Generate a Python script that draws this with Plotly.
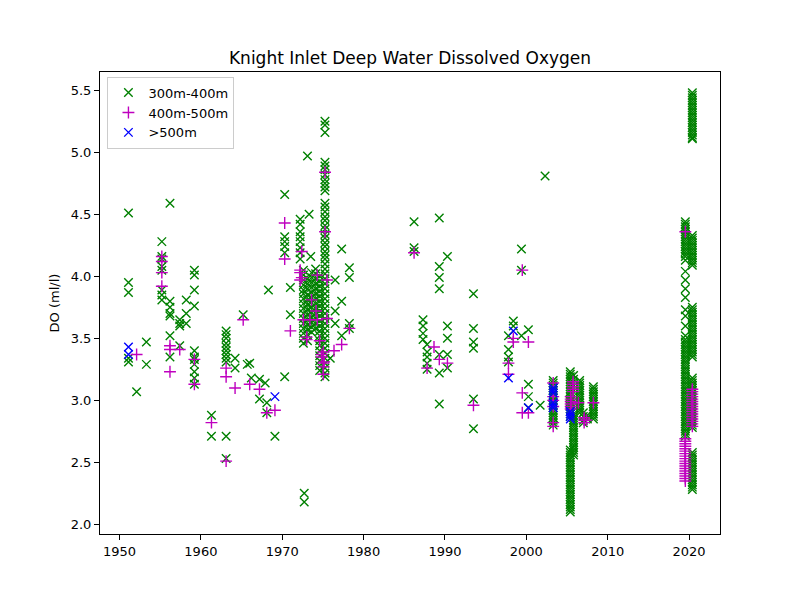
import plotly.graph_objects as go

# 300m-400m : echantillons isoles (annee, valeurs de DO)
vert_isoles = [
    (1951.1, [4.51, 3.95, 3.87, 3.34, 3.31]),
    (1952.1, [3.07]),
    (1953.3, [3.47, 3.29]),
    (1955.2, [4.28, 4.16, 4.14, 4.08, 4.05, 3.89, 3.85, 3.81]),
    (1956.2, [4.59, 3.80, 3.75, 3.70, 3.68, 3.52, 3.35]),
    (1957.4, [3.65, 3.62, 3.60, 3.44]),
    (1958.2, [3.81, 3.70, 3.62]),
    (1959.2, [4.05, 4.01, 3.89, 3.76, 3.40, 3.35, 3.33, 3.29, 3.23, 3.18, 3.13]),
    (1961.3, [2.88, 2.71]),
    (1963.1, [3.56, 3.53, 3.50, 3.46, 3.43, 3.40, 3.37, 3.34, 3.31, 2.71, 2.53]),
    (1964.2, [3.34, 3.26]),
    (1965.2, [3.69]),
    (1965.7, [3.29]),
    (1966.0, [3.30]),
    (1966.2, [3.18]),
    (1967.2, [3.17, 3.01]),
    (1967.9, [3.14]),
    (1968.1, [2.98, 2.90]),
    (1968.3, [3.89]),
    (1969.1, [2.71]),
    (1970.3, [4.66, 4.32, 4.28, 4.24, 4.19, 3.19]),
    (1971.0, [3.91, 3.69]),
    (1972.2, [4.46, 4.42, 4.36, 4.32, 4.28, 4.23, 4.19, 4.14]),
    (1972.7, [2.25, 2.18]),
    (1973.1, [4.97]),
    (1973.3, [4.50]),
    (1973.5, [4.16]),
    (1975.9, [3.34]),
    (1976.5, [3.97, 3.72, 3.62]),
    (1977.3, [4.22, 3.80, 3.52]),
    (1978.25, [4.07, 3.99, 3.62, 3.58]),
    (1986.2, [4.44, 4.23, 4.20]),
    (1987.3, [3.65, 3.60, 3.54, 3.49]),
    (1987.8, [3.45, 3.39, 3.35, 3.30, 3.25]),
    (1989.3, [4.47, 4.08, 3.99, 3.90, 3.37, 3.22, 2.97]),
    (1990.3, [4.16, 3.60, 3.50, 3.37, 3.26]),
    (1993.5, [3.86, 3.58, 3.47, 3.42, 3.01, 2.77]),
    (1997.8, [3.52, 3.41, 3.35, 3.31]),
    (1998.4, [3.64, 3.60]),
    (1999.4, [4.22, 4.05, 3.52]),
    (2000.25, [3.57, 3.13, 3.03, 2.94]),
    (2001.7, [2.96]),
    (2002.3, [4.81]),
    (2007.0, [2.90, 2.87, 2.84, 2.82]),
    (2007.5, [2.88, 2.85]),
]

# 300m-400m : profils denses
vert_1972_6 = [4.05, 4.01, 3.97, 3.93, 3.89, 3.86, 3.82, 3.78, 3.74, 3.70, 3.66, 3.62, 3.58, 3.54, 3.50, 3.46]
vert_1973_1 = [3.98, 3.94, 3.90, 3.85, 3.81, 3.77, 3.73, 3.69, 3.65, 3.61, 3.57, 3.53, 3.48]
vert_1973_6 = [4.03, 3.99, 3.95, 3.91, 3.87, 3.83, 3.79, 3.75, 3.71, 3.67, 3.63, 3.59, 3.55]
vert_1974_1 = [4.06, 4.02, 3.98, 3.94, 3.90, 3.86, 3.82, 3.78, 3.74, 3.70, 3.66, 3.62, 3.58]
vert_1974_6 = [4.00, 3.96, 3.92, 3.88, 3.84, 3.80, 3.76, 3.72, 3.68, 3.64, 3.60, 3.56, 3.52,
               3.48, 3.44, 3.40, 3.36, 3.32, 3.28, 3.24]
vert_1975_2 = [5.25, 5.22, 5.16, 4.92, 4.89, 4.86, 4.82, 4.78, 4.75, 4.72, 4.69, 4.59, 4.56,
               4.52, 4.48, 4.45, 4.41, 4.38, 4.34, 4.31, 4.27, 4.24, 4.20, 4.17, 4.14, 4.10,
               4.06, 4.02, 3.98, 3.94, 3.90, 3.86, 3.82, 3.78, 3.74, 3.70, 3.66, 3.62, 3.58,
               3.54, 3.50, 3.46, 3.42, 3.38, 3.34, 3.30, 3.26, 3.22, 3.19]
vert_2003 = [3.16, 3.14, 3.12, 3.10, 3.08, 3.06, 3.04, 3.02, 3.00, 2.98, 2.96, 2.94, 2.92,
             2.90, 2.88, 2.86, 2.84, 2.82, 2.80]
vert_2005_haut = [3.23, 3.21, 3.19, 3.17, 3.15, 3.13, 3.11, 3.09, 3.07, 3.05, 3.03, 3.01,
                  2.99, 2.97, 2.95, 2.93, 2.91, 2.89, 2.87]
vert_2005_bas = [2.60, 2.58, 2.56, 2.54, 2.52, 2.50, 2.48, 2.46, 2.44, 2.42, 2.40, 2.38, 2.36,
                 2.34, 2.32, 2.30, 2.28, 2.26, 2.24, 2.22, 2.20, 2.18, 2.16, 2.14, 2.12, 2.10]
vert_2005_8 = [3.20, 3.17, 2.88, 2.86, 2.84, 2.82, 2.80, 2.78, 2.76, 2.74, 2.72, 2.70, 2.68,
               2.66, 2.64, 2.62, 2.60, 2.58, 2.56]
vert_2006 = [3.16, 3.14, 3.12, 3.10, 3.08, 3.06, 3.04, 3.02, 3.00, 2.98, 2.96, 2.94, 2.92, 2.90]
vert_2008 = [3.11, 3.09, 3.07, 3.05, 3.03, 3.01, 2.99, 2.97, 2.95, 2.93, 2.91, 2.89, 2.87, 2.85]
vert_2019 = [4.44, 4.42, 4.40, 4.38, 4.36, 4.34, 4.32, 4.30, 4.28, 4.26, 4.24, 4.22, 4.20,
             4.18, 4.16, 4.13, 4.04, 3.97, 3.90, 3.83, 3.73, 3.68, 3.60, 3.52,
             3.49, 3.47, 3.45, 3.43, 3.41, 3.39, 3.37, 3.35, 3.33, 3.31, 3.29, 3.27, 3.25,
             3.23, 3.21, 3.19, 3.17, 3.15, 3.13, 3.11, 3.09, 3.07, 3.05, 3.03, 3.01, 2.99,
             2.97, 2.95, 2.93, 2.91, 2.89, 2.87, 2.85, 2.83, 2.81, 2.79, 2.77, 2.75, 2.73, 2.71]
vert_2020 = [5.48, 5.46, 5.44, 5.42, 5.40, 5.38, 5.36, 5.34, 5.32, 5.30, 5.28, 5.26, 5.24,
             5.22, 5.20, 5.18, 5.16, 5.14, 5.12, 5.11,
             4.33, 4.31, 4.29, 4.27, 4.25, 4.23, 4.21, 4.19, 4.17, 4.15, 4.13, 4.11, 4.09,
             3.75, 3.73, 3.71, 3.69, 3.67, 3.65, 3.63, 3.61, 3.59, 3.57, 3.55, 3.53, 3.51,
             3.49, 3.47, 3.45, 3.43, 3.41, 3.39, 3.37, 3.35,
             3.18, 3.16, 3.14, 3.12, 3.10, 3.08, 3.06, 3.04, 3.02, 3.00, 2.98, 2.96, 2.94,
             2.92, 2.90, 2.88, 2.86, 2.84, 2.82, 2.80, 2.78,
             2.58, 2.56, 2.54, 2.52, 2.50, 2.48, 2.46, 2.44, 2.42, 2.40, 2.38, 2.36, 2.34,
             2.32, 2.30, 2.28]

vert_profils = [
    (1972.6, vert_1972_6), (1973.1, vert_1973_1), (1973.6, vert_1973_6),
    (1974.1, vert_1974_1), (1974.6, vert_1974_6), (1975.25, vert_1975_2),
    (2003.3, vert_2003), (2005.4, vert_2005_haut), (2005.4, vert_2005_bas),
    (2005.8, vert_2005_8), (2006.55, vert_2006), (2008.24, vert_2008),
    (2019.54, vert_2019), (2020.4, vert_2020),
]

# 400m-500m
magenta_mesures = [
    (1952.1, [3.37]),
    (1955.2, [4.16, 4.12, 4.03, 3.92]),
    (1956.2, [3.44, 3.41, 3.23]),
    (1957.4, [3.41]),
    (1959.2, [3.33, 3.13]),
    (1961.3, [2.82]),
    (1963.1, [3.26, 3.19, 2.51]),
    (1964.2, [3.10]),
    (1965.2, [3.65]),
    (1966.0, [3.13]),
    (1967.2, [3.09]),
    (1968.1, [2.90]),
    (1969.1, [2.92]),
    (1970.3, [4.43, 4.14]),
    (1971.0, [3.56]),
    (1972.2, [4.05, 4.03, 3.97]),
    (1972.4, [4.20, 3.99]),
    (1972.6, [3.65]),
    (1973.0, [3.51, 3.49]),
    (1973.4, [3.65]),
    (1973.6, [3.81]),
    (1974.15, [3.72]),
    (1974.3, [4.01, 3.65]),
    (1974.6, [3.48]),
    (1974.85, [3.37, 3.35]),
    (1975.05, [3.39, 3.30, 3.27, 3.21]),
    (1975.15, [3.31]),
    (1975.26, [4.84, 4.36]),
    (1975.5, [3.97, 3.66]),
    (1976.36, [3.40]),
    (1977.3, [3.45]),
    (1978.25, [3.58]),
    (1986.2, [4.19]),
    (1987.8, [3.26]),
    (1988.65, [3.43]),
    (1989.3, [3.33]),
    (1990.3, [3.30]),
    (1993.5, [2.96]),
    (1997.8, [3.30, 3.21]),
    (1998.4, [3.50, 3.47]),
    (1999.5, [4.05, 3.06, 2.90]),
    (2000.25, [3.47, 2.90]),
    (2003.3, [3.14, 3.03, 3.00, 2.95, 2.82, 2.79]),
    (2005.45, [3.03, 3.01, 2.99, 2.97, 2.95, 2.93]),
    (2005.75, [3.15, 3.13, 3.11, 3.09, 3.07]),
    (2006.4, [2.98]),
    (2007.1, [2.86, 2.84, 2.82]),
    (2007.4, [2.84]),
    (2008.24, [2.98]),
    (2019.54, [4.36, 2.69, 2.67, 2.65, 2.63, 2.61, 2.59, 2.57, 2.55, 2.53, 2.51, 2.49, 2.47,
               2.45, 2.43, 2.41, 2.39, 2.37, 2.35]),
    (2020.4, [3.09, 3.07, 3.05, 3.03, 3.01, 2.99, 2.97, 2.95, 2.93, 2.91, 2.89, 2.87, 2.85,
              2.83, 2.81, 2.79]),
]

# >500m
bleu_mesures = [
    (1951.1, [3.43, 3.37]),
    (1969.1, [3.03]),
    (1997.8, [3.18]),
    (1998.4, [3.56]),
    (2000.25, [2.94]),
    (2003.3, [3.10, 3.08, 3.06, 2.98, 2.96, 2.94]),
    (2005.4, [2.91, 2.89, 2.87, 2.85]),
]


def aplatir(groupes):
    xs, ys = [], []
    for annee, valeurs in groupes:
        for v in valeurs:
            xs.append(annee)
            ys.append(v)
    return xs, ys


x_vert, y_vert = aplatir(vert_isoles + vert_profils)
x_mag, y_mag = aplatir(magenta_mesures)
x_bleu, y_bleu = aplatir(bleu_mesures)

police = 'DejaVu Sans'

fig = go.Figure()
fig.add_trace(go.Scatter(x=x_vert, y=y_vert, mode='markers', name='300m-400m',
                         marker=dict(symbol='x-thin', size=8.5, color='#008000',
                                     line=dict(color='#008000', width=1.4))))
fig.add_trace(go.Scatter(x=x_mag, y=y_mag, mode='markers', name='400m-500m',
                         marker=dict(symbol='cross-thin', size=8.5, color='#bf00bf',
                                     line=dict(color='#bf00bf', width=1.4))))
fig.add_trace(go.Scatter(x=x_bleu, y=y_bleu, mode='markers', name='>500m',
                         marker=dict(symbol='x-thin', size=8.5, color='#0000ff',
                                     line=dict(color='#0000ff', width=1.4))))

# la page a une marge de 8px autour du graphique
fig.update_layout(
    width=800, height=600,
    margin=dict(l=92, r=88, t=64, b=74),
    paper_bgcolor='white', plot_bgcolor='white',
    font=dict(family=police, size=13, color='black'),
    title=dict(text='Knight Inlet Deep Water Dissolved Oxygen', x=0.5, xanchor='center',
               xref='paper', yref='paper', y=1, yanchor='bottom', pad=dict(b=8),
               font=dict(family=police, size=17, color='black')),
    showlegend=True,
    legend=dict(x=0.012, y=0.99, xanchor='left', yanchor='top',
                bgcolor='rgba(255,255,255,0.8)', bordercolor='#cccccc', borderwidth=1,
                font=dict(family=police, size=13)),
)
fig.update_xaxes(range=[1947.6, 2023.8], tick0=1950, dtick=10, ticks='outside', ticklen=5,
                 tickcolor='black', showline=True, linecolor='black', linewidth=1,
                 mirror=True, showgrid=False, zeroline=False,
                 tickfont=dict(family=police, size=13))
fig.update_yaxes(range=[1.922, 5.648], tick0=2.0, dtick=0.5, tickformat='.1f', ticks='outside',
                 ticklen=5, tickcolor='black', showline=True, linecolor='black', linewidth=1,
                 mirror=True, showgrid=False, zeroline=False,
                 title=dict(text='DO (ml/l)', standoff=8, font=dict(family=police, size=13)),
                 tickfont=dict(family=police, size=13))

fig.write_html('out.html')
print('out.html généré avec succès !')
